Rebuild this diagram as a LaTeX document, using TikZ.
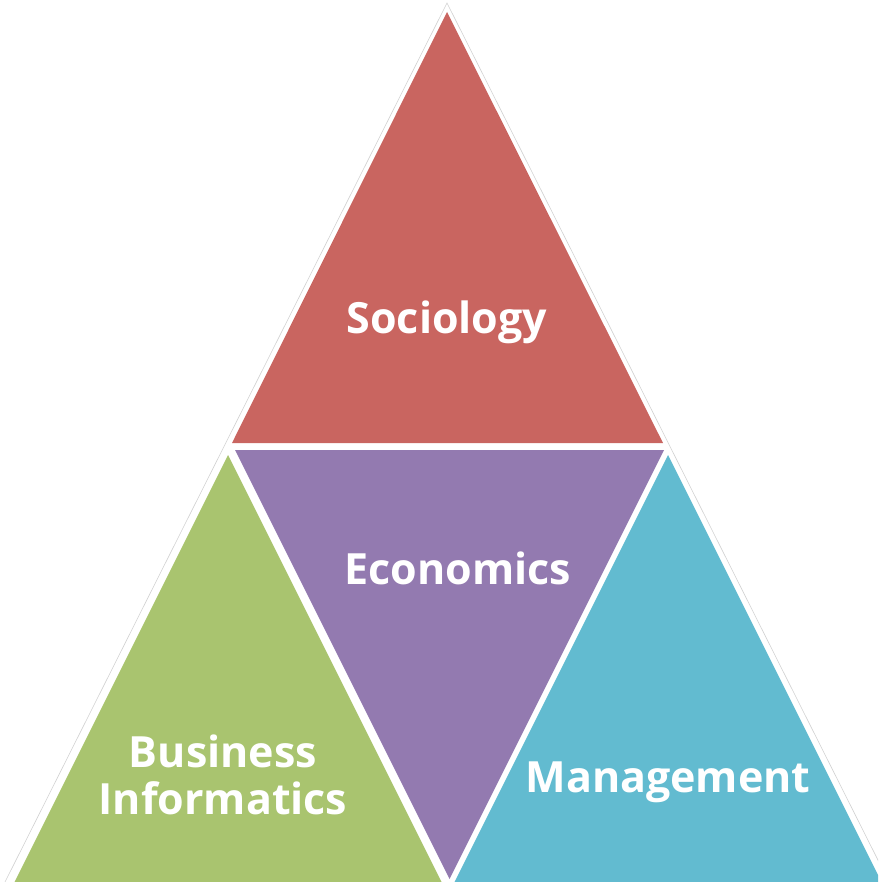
\documentclass[tikz,border=0pt]{standalone}
\usepackage{fontspec}
\setmainfont{Open Sans}
\definecolor{cred}{HTML}{C96560}
\definecolor{cpurple}{HTML}{937AB0}
\definecolor{cgreen}{HTML}{A9C46F}
\definecolor{cblue}{HTML}{62BBD0}
\tikzset{
  lbl/.style={text=white, font=\fontsize{43}{47}\selectfont\bfseries, align=center, inner sep=0pt},
  outline/.style={draw=black!18, line width=0.6pt}
}
\begin{document}
\begin{tikzpicture}[x=1pt,y=-1pt]
\useasboundingbox (0,0) rectangle (878,882);
\clip (0,0) rectangle (878,882);
\draw[outline] (5,882) -- (447,3) -- (889,882);
\fill[cred] (447,12) -- (232,443) -- (663,443) -- cycle;
\fill[cpurple] (235,450) -- (664,450) -- (449.5,879) -- cycle;
\fill[cgreen] (228,455) -- (10.5,890) -- (445.5,890) -- cycle;
\fill[cblue] (668,455) -- (450.5,890) -- (885.5,890) -- cycle;
\node[lbl] (soc) at (447,322) {Sociology};
\node[lbl] (eco) at (458,568) {Economics};
\node[lbl] (bus) at (223,775) {Business\\Informatics};
\node[lbl] (man) at (668,782) {Management};
\end{tikzpicture}
\end{document}
